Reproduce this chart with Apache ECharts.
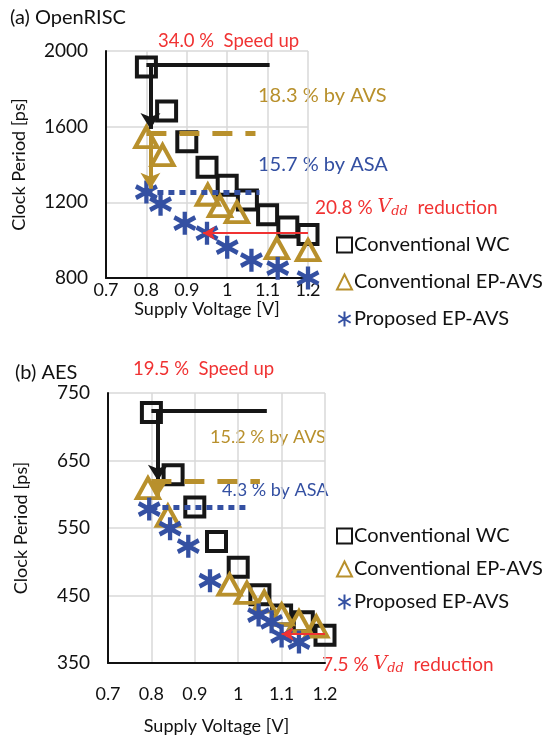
<!DOCTYPE html>
<html><head><meta charset="utf-8">
<script src="https://cdn.jsdelivr.net/npm/echarts@6/dist/echarts.min.js"></script>
<style>html,body{margin:0;padding:0;background:#fff}#c{width:544px;height:736px}</style>
</head><body><div id="c"></div>
<script>
// ---- data ----
const seriesNames = ['Conventional WC', 'Conventional EP-AVS', 'Proposed EP-AVS'];
const xTickLabels = ['0.7', '0.8', '0.9', '1', '1.1', '1.2'];
const yTicksA = [800, 1200, 1600, 2000];
const yTicksB = [350, 450, 550, 650, 750];

// (a) OpenRISC  [supply voltage V, clock period ps]
const wcA = [[0.8,1915],[0.85,1683],[0.9,1520],[0.95,1386],[1.0,1290],[1.05,1212],[1.1,1135],[1.15,1070],[1.2,1030]];
const avsA = [[0.8,1545],[0.84,1450],[0.952,1240],[0.982,1180],[1.024,1148],[1.123,958],[1.2,947]];
const epA = [[0.8,1254],[0.835,1190],[0.895,1090],[0.95,1037],[1.0,963],[1.06,894],[1.125,852],[1.2,800]];

// (b) AES
const wcB = [[0.8,721],[0.85,629],[0.9,581],[0.95,530],[1.0,492],[1.05,451],[1.1,421],[1.15,411],[1.2,391]];
const avsB = [[0.792,609],[0.838,568],[0.98,466],[1.02,454],[1.06,441],[1.1,422],[1.14,412],[1.18,404]];
const epB = [[0.795,578],[0.843,549],[0.885,523],[0.935,472],[1.047,421],[1.077,411],[1.1,390],[1.14,381]];

// annotation lines [[x1,y1],[x2,y2]]
const speedLineA = [[0.8,1925],[1.105,1925]];
const speedArrowA = [[0.81,1925],[0.81,1588]];
const avsLineA = [[0.8,1566],[1.07,1566]];
const avsArrowA = [[0.81,1566],[0.81,1272]];
const asaLineA = [[0.8,1254],[1.08,1254]];
const vddArrowA = [[1.2,1037],[0.94,1037]];

const speedLineB = [[0.8,723],[1.066,723]];
const speedArrowB = [[0.815,723],[0.815,620]];
const avsLineB = [[0.8,620],[1.05,620]];
const avsArrowB = [[0.815,620],[0.815,597]];
const asaLineB = [[0.8,581],[1.025,581]];
const vddArrowB = [[1.2,393],[1.1,393]];

// ---- styles ----
const FONT = 'Lato';
const BLACK = '#161616', GOLD = '#b8902c', BLUE = '#3450a2', RED = '#f03232';
const GRIDC = '#d9d9d9';
const asterisk = 'path://M10,0 L10,22 M1,5.5 L19,16.5 M1,16.5 L19,5.5';

function xAxis(idx, margin, gap) {
  return {
    type: 'value', gridIndex: idx, min: 0.7, max: 1.2, interval: 0.1,
    name: 'Supply Voltage [V]', nameLocation: 'middle', nameGap: gap,
    nameTextStyle: {fontFamily: FONT, fontSize: 18, color: '#111'},
    axisLine: {show: true, onZero: false, lineStyle: {color: '#111', width: 2}},
    axisTick: {show: false},
    axisLabel: {fontFamily: FONT, fontSize: 18, color: '#111', margin: margin,
      formatter: v => xTickLabels[Math.round((v - 0.7) * 10)]},
    splitLine: {show: true, lineStyle: {color: GRIDC, width: 1.5}}
  };
}
function yAxis(idx, ticks, interval, gap) {
  return {
    type: 'value', gridIndex: idx, min: ticks[0], max: ticks[ticks.length - 1], interval: interval,
    name: 'Clock Period [ps]', nameLocation: 'middle', nameGap: gap, nameRotate: 90,
    nameTextStyle: {fontFamily: FONT, fontSize: 18, color: '#111'},
    axisLine: {show: true, lineStyle: {color: '#111', width: 2}},
    axisTick: {show: false},
    axisLabel: {fontFamily: FONT, fontSize: 19, color: '#111', margin: 18, formatter: v => String(v)},
    splitLine: {show: true, lineStyle: {color: GRIDC, width: 1.5}}
  };
}
function seg(pts, style, arrow, arrowSize) {
  return [
    {coord: pts[0], symbol: 'none', lineStyle: style},
    {coord: pts[1], symbol: arrow ? 'arrow' : 'none', symbolSize: arrowSize || [14, 16]}
  ];
}
function annotations(idx, s1, s2, a1, a2, d1, r1) {
  return {
    type: 'scatter', xAxisIndex: idx, yAxisIndex: idx, data: [], silent: true,
    markLine: {
      silent: true, animation: false, label: {show: false},
      emphasis: {disabled: true},
      data: [
        seg(s1, {color: BLACK, width: 4, type: 'solid'}),
        seg(s2, {color: BLACK, width: 4, type: 'solid'}, true, [15, 16]),
        seg(a1, {color: GOLD, width: 5, type: [20, 13]}),
        seg(a2, {color: GOLD, width: 4, type: 'solid'}, true, [15, 16]),
        seg(d1, {color: BLUE, width: 5, type: [6, 5]}),
        seg(r1, {color: RED, width: 2, type: 'solid'}, true, [10, 12])
      ]
    }
  };
}
function scat(name, idx, data) {
  const base = {name: name, type: 'scatter', xAxisIndex: idx, yAxisIndex: idx, data: data, z: 3};
  if (name === seriesNames[0]) Object.assign(base, {symbol: 'rect', symbolSize: 19,
    itemStyle: {color: 'rgba(255,255,255,0)', borderColor: BLACK, borderWidth: 4, opacity: 1}});
  if (name === seriesNames[1]) Object.assign(base, {symbol: 'triangle', symbolSize: [22, 20],
    itemStyle: {color: 'rgba(255,255,255,0)', borderColor: GOLD, borderWidth: 4, opacity: 1}});
  if (name === seriesNames[2]) Object.assign(base, {symbol: asterisk, symbolSize: [21, 23],
    itemStyle: {color: 'rgba(255,255,255,0)', borderColor: BLUE, borderWidth: 4.5, opacity: 1}});
  return base;
}
function legend(top, gap) {
  return {
    orient: 'vertical', left: 331, top: top, itemGap: gap, itemWidth: 15, itemHeight: 15,
    selectedMode: false, data: seriesNames,
    textStyle: {fontFamily: FONT, fontSize: 20, color: '#111', padding: [0, 0, 0, -3]}
  };
}
function txt(x, y, text, color, size) {
  return {type: 'text', left: x, top: y, style: {text: text, fill: color, font: (size || 18) + 'px ' + FONT}};
}
function vddTxt(x, y, num) {
  return {type: 'text', left: x, top: y, style: {
    text: '{a|' + num + ' % }{v|V}{s|dd}{a|  reduction}', fill: RED,
    rich: {
      a: {fontFamily: FONT, fontSize: 19, fill: RED},
      v: {fontFamily: 'DejaVu Serif', fontStyle: 'italic', fontSize: 19, fill: RED},
      s: {fontFamily: 'DejaVu Serif', fontStyle: 'italic', fontSize: 13, fill: RED, padding: [8, 0, 0, 0]}
    }
  }};
}

const chart = echarts.init(document.getElementById('c'), null, {renderer: 'canvas'});
chart.setOption({
  animation: false,
  backgroundColor: '#fff',
  grid: [
    {left: 106, top: 51, width: 202, height: 227},
    {left: 108, top: 393, width: 217, height: 277}
  ],
  xAxis: [xAxis(0, 3, 18), xAxis(1, 22, 54)],
  yAxis: [yAxis(0, yTicksA, 400, 78), yAxis(1, yTicksB, 100, 78)],
  legend: [legend(230, 17), legend(521, 13)],
  series: [
    annotations(0, speedLineA, speedArrowA, avsLineA, avsArrowA, asaLineA, vddArrowA),
    annotations(1, speedLineB, speedArrowB, avsLineB, avsArrowB, asaLineB, vddArrowB),
    scat(seriesNames[0], 0, wcA), scat(seriesNames[1], 0, avsA), scat(seriesNames[2], 0, epA),
    scat(seriesNames[0], 1, wcB), scat(seriesNames[1], 1, avsB), scat(seriesNames[2], 1, epB)
  ],
  graphic: [
    txt(10, 8, '(a) OpenRISC', '#111', 20),
    txt(158, 32, '34.0 %  Speed up', RED, 18.5),
    txt(258, 86, '18.3 % by AVS', GOLD, 20),
    txt(258, 155, '15.7 % by ASA', BLUE, 20),
    vddTxt(315, 198, '20.8'),
    txt(15, 363, '(b) AES', '#111', 20),
    txt(133, 360, '19.5 %  Speed up', RED, 18.5),
    txt(210, 428, '15.2 % by AVS', GOLD, 18),
    txt(222, 481, '4.3 % by ASA', BLUE, 18),
    vddTxt(322, 655, '7.5')
  ]
});
</script></body></html>
